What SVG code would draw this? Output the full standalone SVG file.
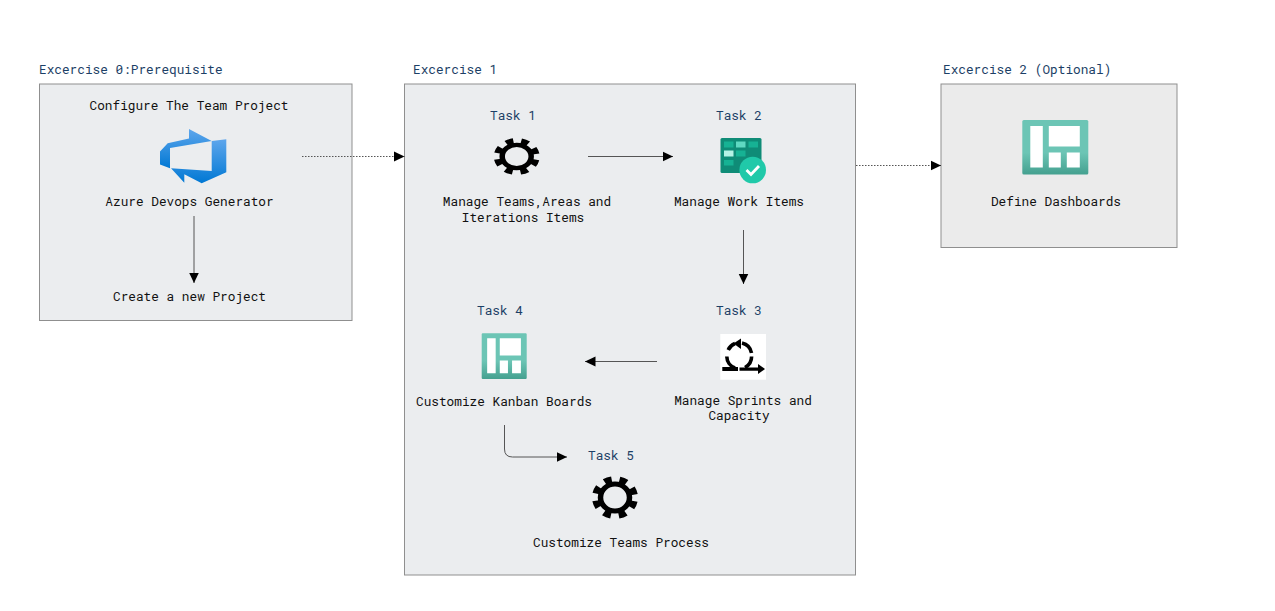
<svg xmlns="http://www.w3.org/2000/svg" width="1275" height="611" viewBox="0 0 1275 611">
<style>
text{font-family:"Roboto Mono","DejaVu Sans Mono","Liberation Mono",monospace;font-size:12.75px}
.t{fill:#111;text-anchor:middle}
.h{fill:#1c3f66}
.c{fill:#1c3f66;text-anchor:middle}
.p{stroke:#8f8f8f;stroke-width:1}
.a{fill:none;stroke:#555;stroke-width:1;marker-end:url(#ah)}
.d{fill:none;stroke:#555;stroke-width:1;stroke-dasharray:1.5 1.5;marker-end:url(#ah)}
</style>
<defs>
<marker id="ah" markerUnits="userSpaceOnUse" markerWidth="11" markerHeight="11" refX="10.5" refY="5.5" orient="auto"><path d="M0,0.5L10.5,5.5L0,10.5Z" fill="#000"/></marker>
<linearGradient id="az" x1="0" y1="0" x2="0" y2="1"><stop offset="0" stop-color="#5ea6ec"/><stop offset="1" stop-color="#0078d4"/></linearGradient>
<linearGradient id="kb" x1="0" y1="0" x2="0" y2="1"><stop offset="0" stop-color="#6cc5b5"/><stop offset=".6" stop-color="#6cc5b5"/><stop offset="1" stop-color="#44a08f"/></linearGradient>
<g id="gear"><circle r="14.500" fill="none" stroke="#000" stroke-width="5.500"/><circle r="19.500" fill="none" stroke="#000" stroke-width="7" stroke-dasharray="7.500 7.820" transform="rotate(11.500)"/></g>
<g id="kanban"><rect width="66" height="54.500" rx="1.500" fill="url(#kb)"/><path d="M8,6H20.500V47.500H8ZM26.500,6H57.500V26.500H26.500ZM26.500,32.500H38.500V47.500H26.500ZM44.500,32.500H57.500V47.500H44.500Z" fill="#fff"/></g>
</defs>

<g id="ex0">
<rect class="p" x="39.500" y="84" width="312.500" height="236.500" fill="#ebedef"/>
<text class="h" x="39" y="74">Excercise 0:Prerequisite</text>
<text class="t" x="189" y="110">Configure The Team Project</text>
<g id="azure-icon" fill="url(#az)">
<path d="M189,129L211.700,141L170,148L170,168.300L160,164.500V151.500L167.700,143.300L189,138.500Z"/>
<path d="M211.700,141L226.300,139.300V172.300L201.700,183.300L184.300,174.300V182.700L171,168.300L211.700,171Z"/>
</g>
<text class="t" x="189.500" y="206">Azure Devops Generator</text>
<text class="t" x="189.500" y="301">Create a new Project</text>
</g>

<g id="ex1">
<rect class="p" x="404.500" y="84" width="451" height="491" fill="#ebedef"/>
<text class="h" x="413" y="74">Excercise 1</text>
</g>

<g id="task1">
<text class="c" x="513" y="119.500">Task 1</text>
<use href="#gear" transform="translate(516.700 156.500) scale(1 .8)"/>
<text class="t" x="527" y="206">Manage Teams,Areas and</text>
<text class="t" x="523" y="222">Iterations Items</text>
</g>

<g id="task2">
<text class="c" x="739" y="119.500">Task 2</text>
<rect x="720.500" y="138" width="41" height="35" rx="1.500" fill="#0f8c77"/>
<g fill="#16b294">
<rect x="724" y="141.500" width="9.500" height="6"/><rect x="736" y="141.500" width="9.500" height="6" fill="#5fd9c2"/><rect x="748.500" y="141.500" width="9.500" height="6"/>
<rect x="724" y="150.500" width="9.500" height="6" fill="#b5f2e5"/><rect x="736" y="150.500" width="9.500" height="6"/>
<rect x="724" y="160" width="9.500" height="5.500"/>
</g>
<circle cx="752.700" cy="170" r="13.300" fill="#20c9a9"/>
<path d="M746.500,170L751,174.500L759,166" fill="none" stroke="#fff" stroke-width="2.800"/>
<text class="t" x="739" y="206">Manage Work Items</text>
</g>

<g id="task3">
<text class="c" x="739" y="315">Task 3</text>
<rect x="720.300" y="334" width="45.700" height="45.700" fill="#fff"/>
<path d="M728.200,350A12,12 0 0 1 735,343.500M742,343A12.500,12.500 0 0 1 751.500,353M751.600,356.500A12.500,12.500 0 0 1 745,367.500M735,368A12.500,12.500 0 0 1 726.800,356.500" fill="none" stroke="#000" stroke-width="3.600"/>
<path d="M741,338.500L733.500,343.500L741,349Z"/>
<path d="M722.300,367H738V371H722.300ZM739.500,367.500H759V370.800H739.500Z"/>
<path d="M758,364L765,369L758,374Z"/>
<text class="t" x="743" y="405">Manage Sprints and</text>
<text class="t" x="739" y="420">Capacity</text>
</g>

<g id="task4">
<text class="c" x="500" y="315">Task 4</text>
<use href="#kanban" transform="translate(481.700 333.300) scale(.682 .84)"/>
<text class="t" x="504" y="406">Customize Kanban Boards</text>
</g>

<g id="task5">
<text class="c" x="611" y="460">Task 5</text>
<use href="#gear" transform="translate(615 497.500) scale(1 .93)"/>
<text class="t" x="621" y="547">Customize Teams Process</text>
</g>

<g id="ex2">
<rect class="p" x="941" y="84" width="236" height="163.500" fill="#ebebeb"/>
<text class="h" x="943" y="74">Excercise 2 (Optional)</text>
<use href="#kanban" x="1022.300" y="120"/>
<text class="t" x="1056" y="206">Define Dashboards</text>
</g>

<g id="connectors">
<path class="d" d="M302,156.500H404.500"/>
<path class="d" d="M856,165.500H941"/>
<path class="a" d="M194,216V283"/>
<path class="a" d="M588,156.500H673"/>
<path class="a" d="M743.500,230V284"/>
<path class="a" d="M657,361.500H585"/>
<path class="a" d="M504.500,425V449Q504.500,457 512.500,457H567"/>
</g>
</svg>
